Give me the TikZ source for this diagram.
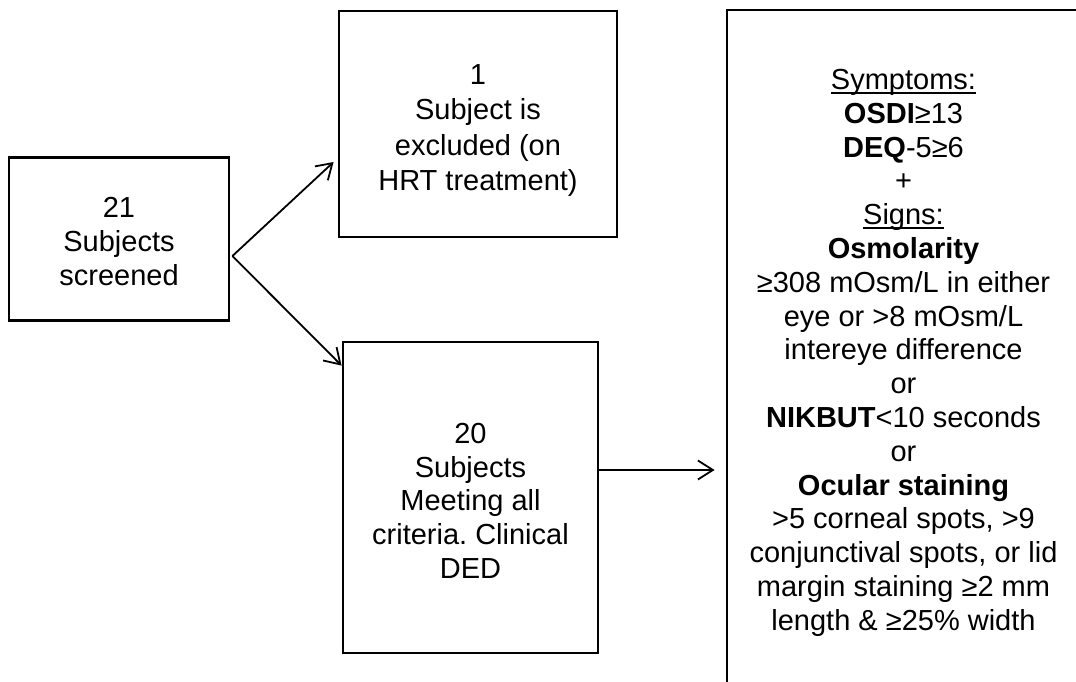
\documentclass[tikz,border=0pt]{standalone}
\usepackage{fontspec}
\setmainfont{Liberation Sans}
\usetikzlibrary{arrows.meta,calc}
\frenchspacing
\newcommand\myul[1]{\setbox0\hbox{#1}\rlap{\rule[-4pt]{\wd0}{2pt}}\box0}
\newcommand\topgap[1]{\rule{0pt}{#1}}
\begin{document}
\begin{tikzpicture}[x=1pt,y=-1pt,
  box/.style={draw=black,line width=2.8pt,rectangle,inner sep=0pt,align=center,
    font=\fontsize{29}{33.8}\selectfont},
  arr/.style={line width=1.8pt,-{Straight Barb[length=15pt,width=19pt,line width=1.8pt]}}]
\fill[white] (0,0) rectangle (1076,682);
\useasboundingbox (0,0) rectangle (1076,682);
\clip (0,0) rectangle (1076,682);
\node[box,minimum width=220pt,minimum height=163pt] (a) at (119,239)
  {\topgap{24.8pt}21\\Subjects\\screened};
\node[box,minimum width=278pt,minimum height=226pt,
  font=\fontsize{29}{35.5}\selectfont] (b) at (478,124)
  {\topgap{32.8pt}1\\Subject is\\excluded (on\\HRT treatment)};
\node[box,minimum width=255pt,minimum height=311pt] (c) at (470.5,497.5)
  {\topgap{26.8pt}20\\Subjects\\Meeting all\\criteria. Clinical\\DED};
\node[box,minimum width=353pt,minimum height=678pt] (d) at (903.5,349)
  {\topgap{28pt}\myul{Symptoms:}\\\textbf{OSDI}≥13\\\textbf{DEQ}-5≥6\\+\\\myul{Signs:}\\
   \textbf{Osmolarity}\\≥308 mOsm/L in either\\eye or >8 mOsm/L\\intereye difference\\or\\
   \textbf{NIKBUT}<10 seconds\\or\\\textbf{Ocular staining}\\>5 corneal spots, >9\\
   conjunctival spots, or lid\\margin staining ≥2 mm\\length \& ≥25\% width};
\coordinate (s) at ($(a.east)+(2,17)$);
\coordinate (t1) at ($(b.west)+(-4,38)$);
\coordinate (t2) at ($(c.north west)+(0,25)$);
\coordinate (h0) at ($(c.east)+(0,-27.5)$);
\coordinate (h1) at ($(d.west |- h0)+(-11,0)$);
\draw[arr] (s) -- (t1);
\draw[arr] (s) -- (t2);
\draw[arr] (h0) -- (h1);
\end{tikzpicture}
\end{document}
